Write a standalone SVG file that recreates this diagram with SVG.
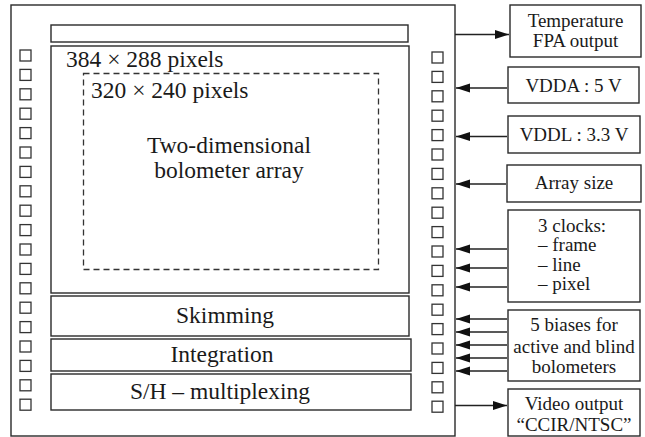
<svg xmlns="http://www.w3.org/2000/svg" width="645" height="437" viewBox="0 0 645 437">
<style>
.box{fill:#fff;stroke:#2a2a2a;stroke-width:1.4}
.pad{fill:#fff;stroke:#333;stroke-width:1.3}
.dash{fill:none;stroke:#333;stroke-width:1.3;stroke-dasharray:6 4}
.t{font-family:"Liberation Serif","Times New Roman",serif;fill:#1a1a1a}
.big{font-size:23.5px}
.sm{font-size:19px}
.c{text-anchor:middle}
.ar{stroke:#222;stroke-width:1.3;fill:none}
</style>
<defs>
<marker id="ah" markerUnits="userSpaceOnUse" markerWidth="14" markerHeight="10" refX="14" refY="5" orient="auto">
<polygon points="0,0.5 14,5 0,9.5" fill="#111"/>
</marker>
<g id="lpad"><rect class="pad" x="0" y="0" width="11" height="11"/></g>
</defs>
<g id="chip">
<rect class="box" x="11" y="5" width="444" height="431"/>
</g>
<g id="pads-left">
<use href="#lpad" x="20" y="50"/><use href="#lpad" x="20" y="69.4"/><use href="#lpad" x="20" y="88.8"/><use href="#lpad" x="20" y="108.2"/><use href="#lpad" x="20" y="127.6"/><use href="#lpad" x="20" y="147"/><use href="#lpad" x="20" y="166.4"/><use href="#lpad" x="20" y="185.8"/><use href="#lpad" x="20" y="205.2"/><use href="#lpad" x="20" y="224.6"/><use href="#lpad" x="20" y="244"/><use href="#lpad" x="20" y="263.4"/><use href="#lpad" x="20" y="282.8"/><use href="#lpad" x="20" y="302.2"/><use href="#lpad" x="20" y="321.6"/><use href="#lpad" x="20" y="341"/><use href="#lpad" x="20" y="360.4"/><use href="#lpad" x="20" y="379.8"/><use href="#lpad" x="20" y="399.2"/>
</g>
<g id="pads-right">
<use href="#lpad" x="432" y="52"/><use href="#lpad" x="432" y="71.4"/><use href="#lpad" x="432" y="90.8"/><use href="#lpad" x="432" y="110.2"/><use href="#lpad" x="432" y="129.6"/><use href="#lpad" x="432" y="149"/><use href="#lpad" x="432" y="168.4"/><use href="#lpad" x="432" y="187.8"/><use href="#lpad" x="432" y="207.2"/><use href="#lpad" x="432" y="226.6"/><use href="#lpad" x="432" y="246"/><use href="#lpad" x="432" y="265.4"/><use href="#lpad" x="432" y="284.8"/><use href="#lpad" x="432" y="304.2"/><use href="#lpad" x="432" y="323.6"/><use href="#lpad" x="432" y="343"/><use href="#lpad" x="432" y="362.4"/><use href="#lpad" x="432" y="381.8"/><use href="#lpad" x="432" y="401.2"/>
</g>
<g id="topbar"><rect class="box" x="51" y="25" width="357" height="17"/></g>
<g id="array">
<rect class="box" x="51" y="46" width="358" height="247"/>
<text class="t big" x="66" y="67">384 × 288 pixels</text>
<rect class="dash" x="83.5" y="73.5" width="295" height="196"/>
<text class="t big" x="91" y="98">320 × 240 pixels</text>
<text class="t big c" x="229" y="153">Two-dimensional</text>
<text class="t big c" x="229" y="178">bolometer array</text>
</g>
<g id="skimming"><rect class="box" x="51" y="296" width="358" height="40"/><text class="t big c" x="225" y="323">Skimming</text></g>
<g id="integration"><rect class="box" x="51" y="339" width="360" height="32"/><text class="t big c" x="222" y="362">Integration</text></g>
<g id="shmux"><rect class="box" x="51" y="374" width="360" height="36"/><text class="t big c" x="220" y="399">S/H – multiplexing</text></g>
<g id="temp"><rect class="box" x="510" y="5" width="131" height="52"/><text class="t sm c" x="575.5" y="27">Temperature</text><text class="t sm c" x="575.5" y="47">FPA output</text></g>
<g id="vdda"><rect class="box" x="508" y="67" width="131" height="36"/><text class="t sm c" x="573.5" y="92">VDDA : 5 V</text></g>
<g id="vddl"><rect class="box" x="508" y="116" width="132" height="37"/><text class="t sm c" x="574" y="141">VDDL : 3.3 V</text></g>
<g id="arraysize"><rect class="box" x="507" y="165" width="134" height="37"/><text class="t sm c" x="574" y="189">Array size</text></g>
<g id="clocks"><rect class="box" x="508" y="210" width="132" height="92"/>
<text class="t sm" x="538" y="232">3 clocks:</text><text class="t sm" x="538" y="251">– frame</text><text class="t sm" x="538" y="271">– line</text><text class="t sm" x="538" y="290">– pixel</text></g>
<g id="biases"><rect class="box" x="508" y="310" width="132" height="71"/>
<text class="t sm c" x="574" y="331">5 biases for</text><text class="t sm c" x="574" y="353">active and blind</text><text class="t sm c" x="574" y="373">bolometers</text></g>
<g id="video"><rect class="box" x="508" y="389" width="132" height="47"/>
<text class="t sm c" x="574" y="410">Video output</text><text class="t sm c" x="574" y="431">“CCIR/NTSC”</text></g>
<g id="connectors">
<line class="ar" x1="455" y1="34.5" x2="509" y2="34.5" marker-end="url(#ah)"/>
<line class="ar" x1="507" y1="88" x2="456" y2="88" marker-end="url(#ah)"/>
<line class="ar" x1="507" y1="136.5" x2="456" y2="136.5" marker-end="url(#ah)"/>
<line class="ar" x1="506" y1="184" x2="456" y2="184" marker-end="url(#ah)"/>
<line class="ar" x1="507" y1="249" x2="456" y2="249" marker-end="url(#ah)"/>
<line class="ar" x1="507" y1="268" x2="456" y2="268" marker-end="url(#ah)"/>
<line class="ar" x1="507" y1="287" x2="456" y2="287" marker-end="url(#ah)"/>
<line class="ar" x1="507" y1="319" x2="456" y2="319" marker-end="url(#ah)"/>
<line class="ar" x1="507" y1="332" x2="456" y2="332" marker-end="url(#ah)"/>
<line class="ar" x1="507" y1="345" x2="456" y2="345" marker-end="url(#ah)"/>
<line class="ar" x1="507" y1="358" x2="456" y2="358" marker-end="url(#ah)"/>
<line class="ar" x1="507" y1="371" x2="456" y2="371" marker-end="url(#ah)"/>
<line class="ar" x1="455" y1="405.5" x2="507" y2="405.5" marker-end="url(#ah)"/>
</g>
</svg>
